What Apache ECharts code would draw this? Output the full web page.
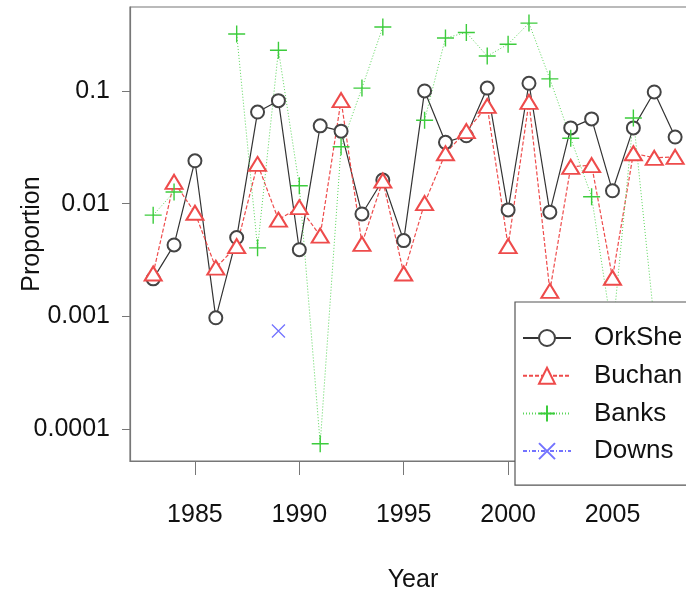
<!DOCTYPE html>
<html>
<head>
<meta charset="utf-8">
<script src="https://cdn.jsdelivr.net/npm/echarts@6/dist/echarts.min.js"></script>
<style>html,body{margin:0;padding:0;background:#fff}#c{width:686px;height:592px}</style>
</head>
<body>
<div id="c"></div>
<script>
const years = [1983,1984,1985,1986,1987,1988,1989,1990,1991,1992,1993,1994,1995,1996,1997,1998,1999,2000,2001,2002,2003,2004,2005,2006,2007,2008];
const orkShe = [0.00215,0.0043,0.024,0.00097,0.0050,0.065,0.082,0.0039,0.049,0.044,0.0081,0.0162,0.0047,0.100,0.035,0.040,0.106,0.0088,0.117,0.0084,0.047,0.0565,0.013,0.047,0.098,0.039];
const buchan = [0.0024,0.0156,0.0083,0.0027,0.0042,0.0225,0.0072,0.0093,0.0052,0.083,0.0044,0.016,0.0024,0.0101,0.028,0.044,0.0736,0.0042,0.080,0.00168,0.0212,0.022,0.0022,0.028,0.0255,0.026];
const banks = [0.0079,0.0127,null,null,0.32,0.00405,0.23,0.0144,0.000074,0.032,0.106,0.37,null,0.055,0.295,0.33,0.204,0.26,0.40,0.128,0.038,0.0115,0.0007,0.0575,0.0009,0.0005];
const downs = [null,null,null,null,null,null,0.00074,null,null,null,null,null,null,null,null,null,null,null,null,null,null,null,null,null,null,null];
const xTicks = [1985,1990,1995,2000,2005];
const yTicks = [0.0001,0.001,0.01,0.1];
const yTickLabels = ['0.0001','0.001','0.01','0.1'];

const pair = arr => years.map((y,i)=>[y,arr[i]]);
const FONT = 'Liberation Sans, Arial, sans-serif';
const RED = '#ee4b4b', GREEN = '#3ccc3c', BLUE = '#7373ff', BLACK = '#444';

const chart = echarts.init(document.getElementById('c'), null, {renderer:'canvas'});
chart.setOption({
  animation:false,
  backgroundColor:'#fff',
  grid:{left:130, top:7, right:-10, bottom:131, outerBoundsMode:'none', containLabel:false,
        show:true, borderColor:'#777', borderWidth:1.2, backgroundColor:'transparent'},
  xAxis:{
    type:'value', min:1981.89, max:2009,
    name:'Year', nameLocation:'middle', nameGap:107,
    nameTextStyle:{fontFamily:FONT, fontSize:25, color:'#111'},
    axisLine:{show:true, lineStyle:{color:'#777', width:1.2}},
    axisTick:{show:true, length:14, lineStyle:{color:'#777'}, customValues:xTicks},
    axisLabel:{fontFamily:FONT, fontSize:25, color:'#111', margin:42, customValues:xTicks, formatter:v=>String(v)},
    splitLine:{show:false}
  },
  yAxis:{
    type:'log', logBase:10, min:0.000052, max:0.556,
    name:'Proportion', nameLocation:'middle', nameGap:85, nameRotate:90, nameMoveOverlap:false,
    nameTextStyle:{fontFamily:FONT, fontSize:25, color:'#111'},
    axisLine:{show:true, lineStyle:{color:'#777', width:1.2}},
    axisTick:{show:true, length:8, lineStyle:{color:'#777'}, customValues:yTicks},
    axisLabel:{fontFamily:FONT, fontSize:25, color:'#111', margin:20, customValues:yTicks,
      formatter:v=>{const i=yTicks.findIndex(t=>Math.abs(Math.log10(t)-Math.log10(v))<1e-6);return i>=0?yTickLabels[i]:'';}},
    splitLine:{show:false}
  },
  legend:{
    orient:'vertical', left:515, top:302,
    padding:[23,40,21,7],
    itemWidth:48, itemHeight:20, itemGap:11.7,
    backgroundColor:'#fff', borderColor:'#555', borderWidth:1.2,
    textStyle:{fontFamily:FONT, fontSize:26, color:'#111', padding:[0,0,0,18]},
    data:['OrkShe','Buchan','Banks','Downs']
  },
  series:[
    {name:'OrkShe', type:'line', data:pair(orkShe), symbol:'emptyCircle', symbolSize:13,
     itemStyle:{color:BLACK, borderWidth:1.2}, lineStyle:{color:'#333', width:1.2, type:'solid'}, z:3},
    {name:'Buchan', type:'line', data:pair(buchan), symbol:'emptyTriangle', symbolSize:[17,14],
     itemStyle:{color:RED, borderWidth:1.3}, lineStyle:{color:RED, width:1.2, type:[4,2]}, z:3},
    {name:'Banks', type:'line', data:pair(banks), symbol:'path://M-1,0L1,0M0,-1L0,1', symbolSize:17,
     itemStyle:{color:GREEN, borderColor:GREEN, borderWidth:1.4}, lineStyle:{color:'#5ad65a', width:1, type:[1,2]}, connectNulls:false, z:3},
    {name:'Downs', type:'line', data:pair(downs), symbol:'path://M-1,-1L1,1M-1,1L1,-1', symbolSize:13,
     itemStyle:{color:BLUE, borderColor:BLUE, borderWidth:1.3}, lineStyle:{color:BLUE, width:1, type:[4,2,1,2]}, z:3}
  ]
});
</script>
</body>
</html>
